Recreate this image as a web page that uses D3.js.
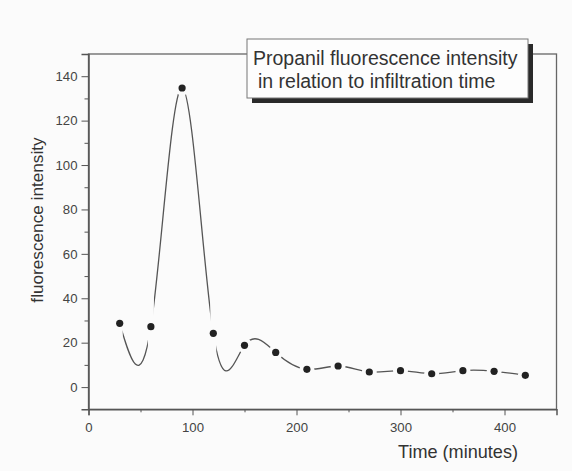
<!DOCTYPE html>
<html>
<head>
<meta charset="utf-8">
<script src="https://cdn.jsdelivr.net/npm/d3@7"></script>
<style>
  body { margin: 0; background: #fbfbfb; }
  svg { display: block; font-family: 'Liberation Sans', Arial, sans-serif; }
  .axis path, .axis line { stroke: #555; }
  .axis text { fill: #444; font-size: 13.2px; }
</style>
</head>
<body>
<svg id="chart" width="572" height="471"></svg>
<script>
// infiltration time (minutes) and measured intensity
const times = [30, 60, 90, 120, 150, 180, 210, 240, 270, 300, 330, 360, 390, 420];
const intensity = [28.7, 27.2, 134.7, 24.2, 18.8, 15.6, 8.0, 9.5, 6.8, 7.4, 6.0, 7.4, 7.1, 5.3];

const xMajor = [0, 100, 200, 300, 400];
const xMinor = [50, 150, 250, 350];
const yMajor = [0, 20, 40, 60, 80, 100, 120, 140];
const yMinor = [10, 30, 50, 70, 90, 110, 130];

const titleLines = ['Propanil fluorescence intensity', 'in relation to infiltration time'];

const data = times.map((t, i) => ({ time: t, value: intensity[i] }));

const svg = d3.select('#chart');

const margin = { top: 54, right: 15.5, bottom: 61.7, left: 88.5 };
const width = +svg.attr('width');
const height = +svg.attr('height');

const x = d3.scaleLinear().domain([0, 450]).range([margin.left, width - margin.right]);
const y = d3.scaleLinear().domain([-10, 150]).range([height - margin.bottom, margin.top]);

// frame round the plot
svg
  .append('rect')
  .attr('x', x(0))
  .attr('y', y(150))
  .attr('width', x(450) - x(0))
  .attr('height', y(-10) - y(150))
  .attr('fill', 'none')
  .attr('stroke', '#666')
  .attr('stroke-width', 1.3);

// axes, major + minor ticks
svg
  .append('g')
  .attr('class', 'axis')
  .attr('transform', `translate(0,${y(-10)})`)
  .call(d3.axisBottom(x).tickValues(xMajor).tickSize(6).tickPadding(7))
  .call((g) => g.select('.domain').attr('stroke-width', 1.5));

svg
  .append('g')
  .attr('class', 'axis')
  .attr('transform', `translate(0,${y(-10)})`)
  .call(d3.axisBottom(x).tickValues(xMinor).tickSize(3).tickFormat(''))
  .call((g) => g.select('.domain').remove());

svg
  .append('g')
  .attr('class', 'axis')
  .attr('transform', `translate(${x(0)},0)`)
  .call(d3.axisLeft(y).tickValues(yMajor).tickSize(7).tickPadding(4))
  .call((g) => g.select('.domain').attr('stroke-width', 1.5));

svg
  .append('g')
  .attr('class', 'axis')
  .attr('transform', `translate(${x(0)},0)`)
  .call(d3.axisLeft(y).tickValues(yMinor).tickSize(4).tickFormat(''))
  .call((g) => g.select('.domain').remove());

// axis titles
svg
  .append('text')
  .attr('x', 398)
  .attr('y', 458)
  .attr('font-size', '18.1px')
  .attr('fill', '#333')
  .text('Time (minutes)');

svg
  .append('text')
  .attr('transform', 'translate(42.5,220) rotate(-90)')
  .attr('text-anchor', 'middle')
  .attr('font-size', '17.2px')
  .attr('fill', '#333')
  .text('fluorescence intensity');

// gaps in the line round each symbol
const mask = svg.append('defs').append('mask').attr('id', 'gaps');
mask.append('rect').attr('width', width).attr('height', height).attr('fill', '#fff');
mask
  .selectAll('rect.gx')
  .data(data)
  .enter()
  .append('rect')
  .attr('class', 'gx')
  .attr('x', (d) => x(d.time) - 3)
  .attr('y', 0)
  .attr('width', 6)
  .attr('height', height)
  .attr('fill', '#000');
mask
  .selectAll('circle')
  .data(data)
  .enter()
  .append('circle')
  .attr('cx', (d) => x(d.time))
  .attr('cy', (d) => y(d.value))
  .attr('r', 7.5)
  .attr('fill', '#000');

// spline through the points
const spline = d3
  .line()
  .x((d) => x(d.time))
  .y((d) => y(d.value))
  .curve(d3.curveNatural);

svg
  .append('path')
  .datum(data)
  .attr('d', spline)
  .attr('fill', 'none')
  .attr('stroke', '#555')
  .attr('stroke-width', 1.3)
  .attr('mask', 'url(#gaps)');

svg
  .selectAll('.dot')
  .data(data)
  .enter()
  .append('circle')
  .attr('class', 'dot')
  .attr('cx', (d) => x(d.time))
  .attr('cy', (d) => y(d.value))
  .attr('r', 3.6)
  .attr('fill', '#222');

// title box with drop shadow
const box = { x: 247, y: 39, w: 281, h: 59 };
svg
  .append('rect')
  .attr('x', box.x + 5)
  .attr('y', box.y + 5)
  .attr('width', box.w)
  .attr('height', box.h)
  .attr('fill', '#2a2a2a');
svg
  .append('rect')
  .attr('x', box.x)
  .attr('y', box.y)
  .attr('width', box.w)
  .attr('height', box.h)
  .attr('fill', '#fdfdfd')
  .attr('stroke', '#777')
  .attr('stroke-width', 1);

svg
  .selectAll('.title')
  .data(titleLines)
  .enter()
  .append('text')
  .attr('class', 'title')
  .attr('x', (d, i) => (i === 0 ? 253 : 258))
  .attr('y', (d, i) => 64.5 + i * 23)
  .attr('font-size', '19.5px')
  .attr('fill', '#333')
  .text((d) => d);
</script>
</body>
</html>
